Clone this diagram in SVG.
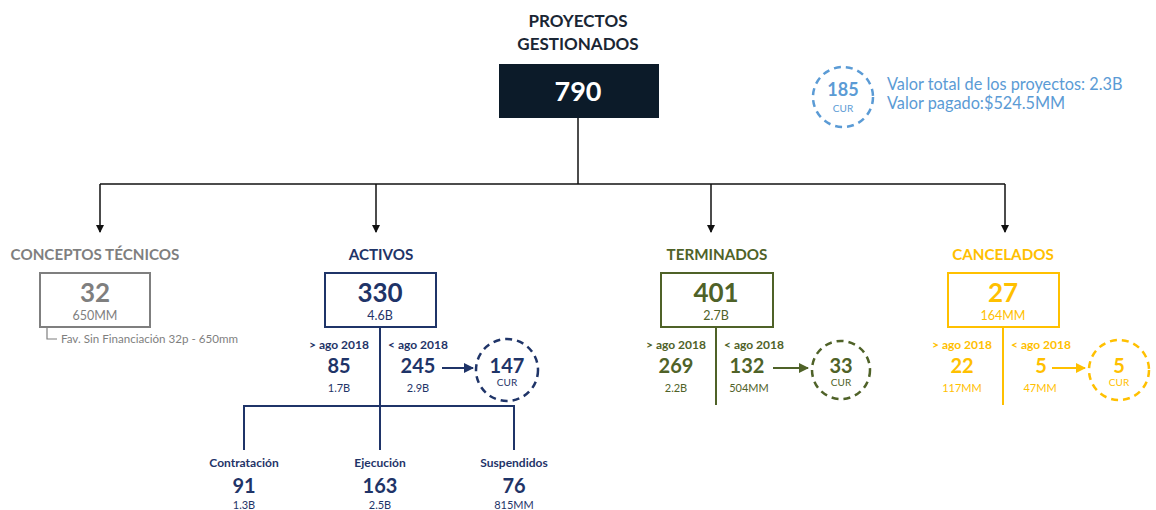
<svg xmlns="http://www.w3.org/2000/svg" width="1156" height="510" viewBox="0 0 1156 510">
<style>
text{font-family:Lato,"Open Sans","Liberation Sans",sans-serif;text-anchor:middle}
.b{font-weight:bold}
.hd{font-size:15.2px;font-weight:bold}
.big{font-size:26px;font-weight:bold}
.sm{font-size:12.5px}
.ag{font-size:12px;font-weight:bold}
.num{font-size:20px;font-weight:bold}
.box{fill:#fff;stroke-width:2}
.dash{fill:#fff;stroke-width:2.5;stroke-dasharray:7 5}
.gray{fill:#7f7f7f}.navy{fill:#1f3468}.green{fill:#4f6228}.yel{fill:#ffc000}.blue{fill:#5b9bd5}
</style>
<defs>
<marker id="ak" markerWidth="8" markerHeight="8" refX="7" refY="4" orient="auto" markerUnits="userSpaceOnUse"><path d="M0,0 L8,4 L0,8 z" fill="#111"/></marker>
<marker id="an" markerWidth="10" markerHeight="10" refX="9" refY="5" orient="auto" markerUnits="userSpaceOnUse"><path d="M0,0 L10,5 L0,10 z" fill="#1f3468"/></marker>
<marker id="ag" markerWidth="10" markerHeight="10" refX="9" refY="5" orient="auto" markerUnits="userSpaceOnUse"><path d="M0,0 L10,5 L0,10 z" fill="#4f6228"/></marker>
<marker id="ay" markerWidth="10" markerHeight="10" refX="9" refY="5" orient="auto" markerUnits="userSpaceOnUse"><path d="M0,0 L10,5 L0,10 z" fill="#ffc000"/></marker>
</defs>
<rect width="1156" height="510" fill="#fff"/>

<g id="connectors" fill="none">
<g stroke="#111" stroke-width="1.5">
<line x1="578" y1="118" x2="578" y2="184"/>
<line x1="100" y1="184" x2="1005" y2="184"/>
<line x1="100" y1="184" x2="100" y2="232" marker-end="url(#ak)"/>
<line x1="376" y1="184" x2="376" y2="232" marker-end="url(#ak)"/>
<line x1="711" y1="184" x2="711" y2="232" marker-end="url(#ak)"/>
<line x1="1005" y1="184" x2="1005" y2="232" marker-end="url(#ak)"/>
</g>
<path d="M47,327 V339 H57" stroke="#7f7f7f" stroke-width="1.2"/>
<g stroke="#1f3468" stroke-width="2">
<line x1="380" y1="327" x2="380" y2="450"/>
<path d="M244,450 V406 H514 V450"/>
<line x1="442" y1="368" x2="473" y2="368" marker-end="url(#an)"/>
</g>
<g stroke="#4f6228" stroke-width="2">
<line x1="716" y1="327" x2="716" y2="405"/>
<line x1="773" y1="368" x2="808" y2="368" marker-end="url(#ag)"/>
</g>
<g stroke="#ffc000" stroke-width="2">
<line x1="1003" y1="327" x2="1003" y2="405"/>
<line x1="1052" y1="368" x2="1085" y2="368" marker-end="url(#ay)"/>
</g>
</g>

<g id="root">
<text x="578" y="27" class="b" font-size="17" fill="#1a2634">PROYECTOS</text>
<text x="578" y="50" class="b" font-size="17" fill="#1a2634">GESTIONADOS</text>
<rect x="499" y="64" width="160" height="54" fill="#0c1b29"/>
<text x="578" y="101" class="b" font-size="27" fill="#fff">790</text>
</g>

<g id="cur-total">
<circle cx="843" cy="97" r="30" class="dash" stroke="#5b9bd5"/>
<text x="843" y="96" class="b blue" font-size="18">185</text>
<text x="843" y="112" class="blue" font-size="10">CUR</text>
<text x="887" y="90" class="blue" font-size="16.3" style="text-anchor:start">Valor total de los proyectos: 2.3B</text>
<text x="887" y="109" class="blue" font-size="16.3" style="text-anchor:start">Valor pagado:$524.5MM</text>
</g>

<g id="conceptos">
<text x="95" y="260" class="hd gray">CONCEPTOS TÉCNICOS</text>
<rect x="40" y="273" width="110" height="54" class="box" stroke="#7f7f7f"/>
<text x="95" y="302" class="big gray">32</text>
<text x="95" y="320" class="sm gray">650MM</text>
<text x="61" y="343" class="gray" font-size="11.6" style="text-anchor:start">Fav. Sin Financiación 32p  - 650mm</text>
</g>

<g id="activos">
<text x="381" y="260" class="hd navy">ACTIVOS</text>
<rect x="325" y="273" width="111" height="54" class="box" stroke="#1f3468"/>
<text x="380" y="302" class="big navy">330</text>
<text x="380" y="320" class="sm navy">4.6B</text>
<text x="339" y="349" class="ag navy">&gt; ago 2018</text>
<text x="339" y="373" class="num navy">85</text>
<text x="339" y="392" class="navy" font-size="11">1.7B</text>
<text x="418" y="349" class="ag navy">&lt; ago 2018</text>
<text x="418" y="373" class="num navy">245</text>
<text x="418" y="392" class="navy" font-size="11">2.9B</text>
</g>
<g id="cur-activos">
<circle cx="507" cy="370" r="31" class="dash" stroke="#1f3468"/>
<text x="507" y="373" class="num navy">147</text>
<text x="507" y="386" class="navy" font-size="10">CUR</text>
</g>
<g id="contratacion">
<text x="244" y="467" class="ag navy">Contratación</text>
<text x="244" y="493" class="num navy">91</text>
<text x="244" y="509" class="navy" font-size="11">1.3B</text>
</g>
<g id="ejecucion">
<text x="380" y="467" class="ag navy">Ejecución</text>
<text x="380" y="493" class="num navy">163</text>
<text x="380" y="509" class="navy" font-size="11">2.5B</text>
</g>
<g id="suspendidos">
<text x="514" y="467" class="ag navy">Suspendidos</text>
<text x="514" y="493" class="num navy">76</text>
<text x="514" y="509" class="navy" font-size="11">815MM</text>
</g>

<g id="terminados">
<text x="717" y="260" class="hd green">TERMINADOS</text>
<rect x="661" y="273" width="112" height="54" class="box" stroke="#4f6228"/>
<text x="716" y="302" class="big green">401</text>
<text x="716" y="320" class="sm green">2.7B</text>
<text x="676" y="349" class="ag green">&gt; ago 2018</text>
<text x="676" y="373" class="num green">269</text>
<text x="676" y="392" class="green" font-size="11">2.2B</text>
<text x="754" y="349" class="ag green">&lt; ago 2018</text>
<text x="747" y="373" class="num green">132</text>
<text x="749" y="392" class="green" font-size="11">504MM</text>
</g>
<g id="cur-terminados">
<circle cx="841" cy="370" r="29" class="dash" stroke="#4f6228"/>
<text x="841" y="373" class="num green">33</text>
<text x="841" y="386" class="green" font-size="10">CUR</text>
</g>

<g id="cancelados">
<text x="1003" y="260" class="hd yel">CANCELADOS</text>
<rect x="948" y="273" width="111" height="54" class="box" stroke="#ffc000"/>
<text x="1003" y="302" class="big yel">27</text>
<text x="1003" y="320" class="sm yel">164MM</text>
<text x="962" y="349" class="ag yel">&gt; ago 2018</text>
<text x="962" y="373" class="num yel">22</text>
<text x="962" y="392" class="yel" font-size="11">117MM</text>
<text x="1041" y="349" class="ag yel">&lt; ago 2018</text>
<text x="1041" y="373" class="num yel">5</text>
<text x="1040" y="392" class="yel" font-size="11">47MM</text>
</g>
<g id="cur-cancelados">
<circle cx="1119" cy="370" r="30" class="dash" stroke="#ffc000"/>
<text x="1119" y="373" class="num yel">5</text>
<text x="1119" y="386" class="yel" font-size="10">CUR</text>
</g>
</svg>
